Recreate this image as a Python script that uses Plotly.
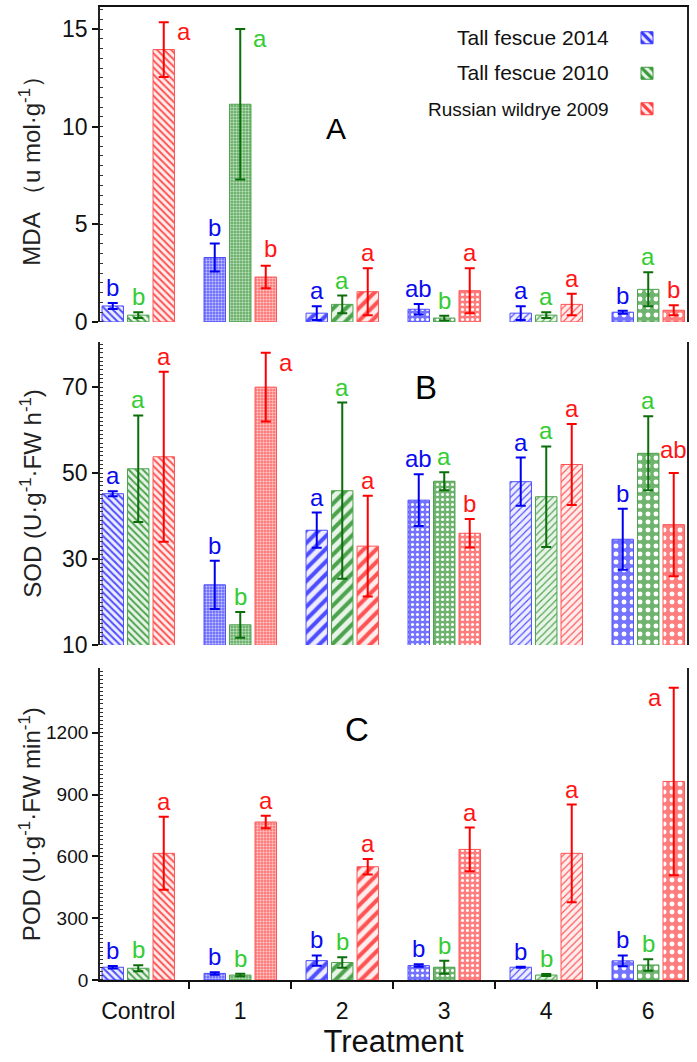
import plotly.graph_objects as go

# ---------------- data ----------------
treatments = ["Control", "1", "2", "3", "4", "6"]
series_names = ["Tall fescue 2014", "Tall fescue 2010", "Russian wildrye 2009"]

mda_2014 = [0.82, 3.3, 0.45, 0.65, 0.45, 0.50]
mda_2010 = [0.35, 11.15, 0.90, 0.20, 0.35, 1.67]
mda_2009 = [13.95, 2.30, 1.55, 1.60, 0.90, 0.60]
mda_err_2014 = [0.15, 0.72, 0.35, 0.27, 0.35, 0.08]
mda_err_2010 = [0.15, 3.85, 0.45, 0.12, 0.15, 0.87]
mda_err_2009 = [1.40, 0.58, 1.20, 1.15, 0.55, 0.25]
mda_let_2014 = ["b", "b", "a", "ab", "a", "b"]
mda_let_2010 = ["b", "a", "a", "b", "a", "a"]
mda_let_2009 = ["a", "b", "a", "a", "a", "b"]

sod_2014 = [45.2, 24.0, 36.7, 43.7, 48.0, 34.6]
sod_2010 = [51.0, 14.7, 45.9, 48.1, 44.5, 54.6]
sod_2009 = [53.8, 70.0, 33.0, 36.0, 52.0, 38.0]
sod_err_2014 = [0.6, 5.6, 4.1, 6.0, 5.6, 7.1]
sod_err_2010 = [12.4, 3.0, 20.5, 2.1, 11.7, 8.6]
sod_err_2009 = [19.8, 8.0, 11.7, 3.3, 9.4, 12.0]
sod_let_2014 = ["a", "b", "a", "ab", "a", "b"]
sod_let_2010 = ["a", "b", "a", "a", "a", "a"]
sod_let_2009 = ["a", "a", "a", "b", "a", "ab"]

pod_2014 = [62, 32, 94, 70, 62, 93]
pod_2010 = [57, 24, 85, 62, 24, 73]
pod_2009 = [615, 767, 550, 634, 615, 964]
pod_err_2014 = [6, 6, 25, 6, 2, 26]
pod_err_2010 = [15, 6, 25, 32, 5, 28]
pod_err_2009 = [177, 30, 38, 106, 237, 455]
pod_let_2014 = ["b", "b", "b", "b", "b", "b"]
pod_let_2010 = ["b", "b", "b", "b", "b", "b"]
pod_let_2009 = ["a", "a", "a", "a", "a", "a"]

panels = [
    dict(vals=[mda_2014, mda_2010, mda_2009], errs=[mda_err_2014, mda_err_2010, mda_err_2009],
         lets=[mda_let_2014, mda_let_2010, mda_let_2009]),
    dict(vals=[sod_2014, sod_2010, sod_2009], errs=[sod_err_2014, sod_err_2010, sod_err_2009],
         lets=[sod_let_2014, sod_let_2010, sod_let_2009]),
    dict(vals=[pod_2014, pod_2010, pod_2009], errs=[pod_err_2014, pod_err_2010, pod_err_2009],
         lets=[pod_let_2014, pod_let_2010, pod_let_2009]),
]

# ---------------- styles ----------------
FONT = "Liberation Sans, Arial, sans-serif"
line_col = ["#3a3aff", "#3a9a3a", "#ff4040"]
err_col = ["#0000ee", "#0b6e0b", "#ff0000"]
let_col = ["#0a0af0", "#33cc33", "#ff1515"]
light_bg = ["#ececff", "#e6f3e6", "#ffecec"]
mid_bg = ["#6464ff", "#5fab5f", "#ff7070"]
# pattern per treatment: shape, size, solidity, mode
pat_shape = ["\\", "+", "/", ".", "/", "."]
pat_size = [5, 3, 9, 5, 5, 8]
pat_sol = [0.4, 0.2, 0.45, 0.3, 0.22, 0.3]
pat_mode = ["line", "white", "line", "white", "line", "white"]

# special letter placements: (panel, series, group) -> (xanchor, xshift, yanchor, yshift)
special = {
    (0, 2, 0): ("left", 11, "top", 6),
    (0, 1, 1): ("left", 11, "top", 6),
    (0, 2, 1): ("center", 5, "bottom", 2),
    (1, 2, 1): ("left", 11, "top", 6),
    (1, 2, 5): ("center", 0, "bottom", 8),
    (2, 2, 5): ("right", -10, "top", 6),
}

# layout geometry (paper fractions)
domains = [[0.6763, 1.0], [0.3443, 0.6557], [0.0, 0.3207]]
yranges = [[0, 16.13], [10, 80.5], [0, 1515]]
ytickvals = [[0, 5, 10, 15], [10, 30, 50, 70], [0, 300, 600, 900, 1200]]
ytick0 = [0, 10, 0]
yminor = [0.5, 1, 20]
ytickfont = [23, 23, 19]
ytitles = ["MDA （u mol·g<sup>-1</sup>）", "SOD (U·g<sup>-1</sup>·FW h<sup>-1</sup>)",
           "POD (U·g<sup>-1</sup>·FW min<sup>-1</sup>)"]
panel_tags = ["A", "B", "C"]
tag_pos = [(1.94, 9.9, 30), (2.82, 70.0, 33), (2.14, 1215, 33)]
xrange_ = [-0.375, 5.38]

fig = go.Figure()
annotations = []

for p, pan in enumerate(panels):
    xa = "x" if p == 0 else f"x{p+1}"
    ya = "y" if p == 0 else f"y{p+1}"
    for s in range(3):
        bg, fg = [], []
        for g in range(6):
            if pat_mode[g] == "line":
                bg.append(light_bg[s]); fg.append(line_col[s])
            else:
                bg.append(mid_bg[s]); fg.append("#ffffff")
        fig.add_trace(go.Bar(
            x=treatments, y=pan["vals"][s], name=" ",
            xaxis=xa, yaxis=ya, showlegend=(p == 0),
            marker=dict(color=light_bg[s], line=dict(color=line_col[s], width=1), opacity=0.9,
                        pattern=dict(shape=pat_shape, size=pat_size, solidity=pat_sol,
                                     bgcolor=bg, fgcolor=fg, fillmode="replace")),
            error_y=dict(type="data", array=pan["errs"][s], visible=True,
                         color=err_col[s], thickness=2, width=5),
            hovertext=series_names[s],
        ))
        for g in range(6):
            top = pan["vals"][s][g] + pan["errs"][s][g]
            xanc, xsh, yanc, ysh = special.get((p, s, g), ("center", 0, "bottom", 0))
            annotations.append(dict(
                x=g + (s - 1) * 0.25, y=top, xref=xa, yref=ya, text=pan["lets"][s][g],
                showarrow=False, xanchor=xanc, yanchor=yanc, xshift=xsh, yshift=ysh,
                font=dict(family=FONT, size=24, color=let_col[s])))
    # panel tag
    tx, ty, tsz = tag_pos[p]
    annotations.append(dict(x=tx, y=ty, xref=xa, yref=ya, text=panel_tags[p], showarrow=False,
                            xanchor="center", yanchor="middle",
                            font=dict(family=FONT, size=tsz, color="#000")))
    # y title
    annotations.append(dict(x=-0.119, y=sum(domains[p]) / 2, xref="paper", yref="paper",
                            text=ytitles[p], textangle=-90, showarrow=False,
                            xanchor="center", yanchor="middle",
                            font=dict(family=FONT, size=24, color="#222")))

# legend texts
leg_y_px = [38, 73, 110]
leg_sizes = [21, 21, 19]
for i, nm in enumerate(series_names):
    annotations.append(dict(x=(611 - 100) / 587, y=(980 - leg_y_px[i]) / 973, xref="paper", yref="paper",
                            text=nm, showarrow=False, xanchor="right", yanchor="middle",
                            font=dict(family=FONT, size=leg_sizes[i], color="#111")))

layout = dict(
    width=697, height=1062,
    margin=dict(l=100, r=10, t=7, b=82, autoexpand=False),
    plot_bgcolor="white", paper_bgcolor="white",
    barmode="group", bargap=0.25, bargroupgap=0.16,
    font=dict(family=FONT, color="#222"),
    annotations=annotations,
    legend=dict(x=(627 - 100) / 587, y=(980 - 15) / 973, xanchor="left", yanchor="top",
                font=dict(size=25, color="rgba(0,0,0,0)"), bgcolor="rgba(0,0,0,0)",
                itemwidth=30, tracegroupgap=0),
)

for p in range(3):
    xk = "xaxis" if p == 0 else f"xaxis{p+1}"
    yk = "yaxis" if p == 0 else f"yaxis{p+1}"
    ya = "y" if p == 0 else f"y{p+1}"
    xd = dict(type="category", range=xrange_, anchor=ya, domain=[0, 1], showgrid=False,
              zeroline=False, fixedrange=True, automargin=False)
    if p == 0:
        xd.update(side="top", showline=True, linecolor="#111", linewidth=1.5,
                  showticklabels=False, ticks="")
    elif p == 1:
        xd.update(showline=False, showticklabels=False, ticks="")
    else:
        xd.update(showline=True, linecolor="#111", linewidth=1.5, ticks="outside",
                  tickson="boundaries", ticklen=7, tickwidth=1.5, tickcolor="#111",
                  ticklabelstandoff=10,
                  tickfont=dict(family=FONT, size=23, color="#111"),
                  title=dict(text="Treatment", font=dict(family=FONT, size=31, color="#111"),
                             standoff=2))
    layout[xk] = xd
    layout[yk] = dict(
        domain=domains[p], range=yranges[p], anchor="x" if p == 0 else f"x{p+1}",
        showgrid=False, zeroline=False, showline=True, mirror=True, automargin=False,
        linecolor="#222", linewidth=1.8,
        ticks="outside", ticklen=6, tickwidth=1.5, tickcolor="#111",
        tickmode="array", tickvals=ytickvals[p],
        minor=dict(ticks="inside", ticklen=3, tickwidth=1, tickcolor="#333", dtick=yminor[p],
                   tick0=ytick0[p], showgrid=False),
        tickfont=dict(family=FONT, size=ytickfont[p], color="#111"),
    )

fig.update_layout(**layout)
fig.write_html("out.html", config={"displayModeBar": False},
               post_script="document.body.style.margin='0';")
